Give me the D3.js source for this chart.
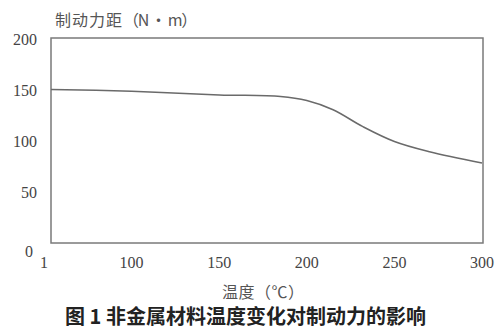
<!DOCTYPE html>
<meta charset="utf-8">
<script src="https://d3js.org/d3.v7.min.js"></script>
<style>
  body { margin: 0; background: #fff; }
</style>
<div id="my_dataviz"></div>
<script>

    // data (x "1" sits where 50 would be)
    const temps = [50, 100, 150, 185, 200, 215, 232, 250, 270, 300];
    const torque = [150, 148, 144.5, 143, 139, 130, 113.5, 99, 89, 78];
    const xTicks = [50, 100, 150, 200, 250, 300];
    const xTickLabels = ["1", "100", "150", "200", "250", "300"];
    const yTicks = [0, 50, 100, 150, 200];
    const yTitleMain = "制动力距";
    const yTitleUnit = "（N · m）";
    const xTitle = "温度（℃）";
    const caption = "图 1  非金属材料温度变化对制动力的影响";

    const width = 500, height = 326;
    const frame = { left: 51, right: 483, top: 38, bottom: 243 };

    const serif = "Liberation Serif, Times New Roman, serif";
    const cjk = "Noto Sans CJK SC";

    const svg = d3.select("#my_dataviz")
        .append("svg")
        .attr("width", width)
        .attr("height", height);

    const x = d3.scaleLinear().domain([50, 300]).range([44, 482]);
    const y = d3.scaleLinear().domain([0, 200]).range([frame.bottom, frame.top]);

    // frame
    svg.append("rect")
        .attr("x", frame.left)
        .attr("y", frame.top)
        .attr("width", frame.right - frame.left)
        .attr("height", frame.bottom - frame.top)
        .attr("fill", "none")
        .attr("stroke", "#7a7a7a")
        .attr("stroke-width", 1.5);

    // clip the curve to the frame
    svg.append("defs").append("clipPath")
        .attr("id", "clip")
        .append("rect")
        .attr("x", frame.left)
        .attr("y", frame.top)
        .attr("width", frame.right - frame.left)
        .attr("height", frame.bottom - frame.top);

    const data = temps.map((t, i) => ({ t: t, v: torque[i] }));

    svg.append("path")
        .datum(data)
        .attr("clip-path", "url(#clip)")
        .attr("fill", "none")
        .attr("stroke", "#6a6a6a")
        .attr("stroke-width", 1.5)
        .attr("d", d3.line()
            .curve(d3.curveCatmullRom.alpha(0.5))
            .x(d => x(d.t))
            .y(d => y(d.v)));

    // y tick labels ("0" sits a bit low and left, like the print)
    svg.append("g")
        .selectAll("text")
        .data(yTicks)
        .join("text")
        .attr("font-family", serif)
        .attr("x", d => d === 0 ? 33 : 37)
        .attr("y", d => y(d) + (d === 0 ? 8 : 1))
        .attr("dy", "0.35em")
        .attr("text-anchor", "end")
        .attr("font-size", 16)
        .attr("fill", "#444")
        .text(d => d);

    // x tick labels
    svg.append("g")
        .selectAll("text")
        .data(xTicks)
        .join("text")
        .attr("font-family", serif)
        .attr("x", d => x(d))
        .attr("y", 262)
        .attr("dy", "0.35em")
        .attr("text-anchor", "middle")
        .attr("font-size", 16)
        .attr("fill", "#444")
        .text((d, i) => xTickLabels[i]);

    // axis titles
    const yt = svg.append("text")
        .attr("font-family", cjk)
        .attr("x", 55)
        .attr("y", 20)
        .attr("dy", "0.35em")
        .attr("font-size", 16)
        .attr("fill", "#555");
    yt.append("tspan").attr("letter-spacing", 1).text(yTitleMain);
    yt.append("tspan").attr("letter-spacing", -1.2).text(yTitleUnit);

    svg.append("text")
        .attr("font-family", cjk)
        .attr("x", 222)
        .attr("y", 292)
        .attr("dy", "0.35em")
        .attr("font-size", 16)
        .attr("letter-spacing", 0.5)
        .attr("fill", "#555")
        .text(xTitle);

    // caption
    svg.append("text")
        .attr("font-family", cjk)
        .attr("x", 65)
        .attr("y", 317)
        .attr("dy", "0.35em")
        .attr("font-weight", "bold")
        .attr("font-size", 20)
        .attr("fill", "#222")
        .text(caption);

</script>
